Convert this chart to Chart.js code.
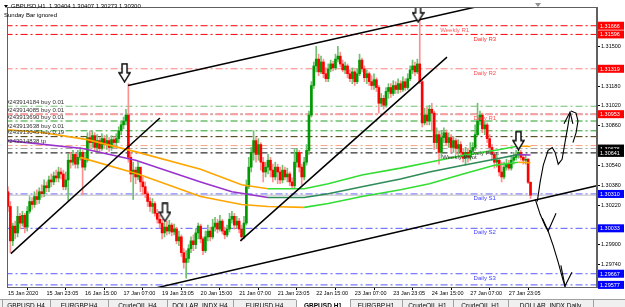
<!DOCTYPE html>
<html>
<head>
<meta charset="utf-8">
<script src="https://cdn.jsdelivr.net/npm/chart.js@4.4.1/dist/chart.umd.min.js"></script>
<style>html,body{margin:0;padding:0;background:#fff;overflow:hidden}canvas{display:block}</style>
</head>
<body>
<canvas id="grafico" width="625" height="307"></canvas>
<script>
// eixo do tempo (um rótulo a cada 16 barras H1)
const timeLabels = ['15 Jan 2020','15 Jan 23:05','16 Jan 15:00','17 Jan 07:00','19 Jan 23:05','20 Jan 15:00','21 Jan 07:00','21 Jan 23:05','22 Jan 15:00','23 Jan 07:00','23 Jan 23:05','24 Jan 15:00','27 Jan 07:00','27 Jan 23:05']
const timeTicks = [0,16,32,48,64,80,96,112,128,144,160,176,192,208]
const priceTicks = [1.29740,1.29900,1.30220,1.30380,1.30540,1.30860,1.31020,1.31180,1.31500]

// candles GBPUSD H1 (abertura = fecho anterior)
const firstOpen = 1.30328
const close = [
1.30209,1.29932,1.30051,1.29996,1.30130,1.30075,1.30138,1.30043,1.30170,1.30249,
1.30225,1.30289,1.30265,1.30328,1.30312,1.30376,1.30360,1.30423,1.30407,1.30455,
1.30439,1.30487,1.30471,1.30368,1.30423,1.30582,1.30566,1.30629,1.30550,1.30605,
1.30645,1.30526,1.30582,1.30764,1.30724,1.30780,1.30685,1.30740,1.30677,1.30756,
1.30708,1.30740,1.30685,1.30748,1.30724,1.30756,1.30819,1.30867,1.30898,1.30946,
1.30605,1.30471,1.30502,1.30447,1.30526,1.30407,1.30368,1.30312,1.30249,1.30209,
1.30233,1.30154,1.30106,1.30075,1.29996,1.30043,1.30011,1.30059,1.30003,1.30027,
1.29932,1.29964,1.29837,1.29758,1.29790,1.29869,1.29932,1.29901,1.29996,1.30051,
1.29948,1.29853,1.29964,1.30011,1.29964,1.30043,1.30075,1.30027,1.30091,1.30011,
1.29980,1.30027,1.30106,1.30130,1.30059,1.30091,1.30027,1.29964,1.30075,1.30368,
1.30526,1.30645,1.30740,1.30629,1.30708,1.30566,1.30487,1.30526,1.30582,1.30502,
1.30447,1.30526,1.30487,1.30423,1.30502,1.30447,1.30471,1.30407,1.30376,1.30566,
1.30645,1.30526,1.30447,1.30566,1.30661,1.30946,1.31184,1.31342,1.31397,1.31294,
1.31374,1.31279,1.31239,1.31318,1.31358,1.31326,1.31397,1.31421,1.31358,1.31310,
1.31342,1.31279,1.31239,1.31294,1.31215,1.31279,1.31389,1.31318,1.31247,1.31279,
1.31215,1.31184,1.31231,1.31168,1.31041,1.31081,1.31025,1.31136,1.31168,1.31120,
1.31184,1.31152,1.31199,1.31152,1.31215,1.31168,1.31239,1.31310,1.31342,1.31294,
1.31358,1.31215,1.30883,1.30946,1.30898,1.30993,1.30962,1.30724,1.30788,1.30645,
1.30764,1.30803,1.30724,1.30764,1.30685,1.30740,1.30677,1.30708,1.30645,1.30597,
1.30645,1.30605,1.30661,1.30685,1.30788,1.30898,1.30946,1.30835,1.30867,1.30756,
1.30685,1.30629,1.30566,1.30582,1.30487,1.30447,1.30526,1.30550,1.30518,1.30582,
1.30605,1.30629,1.30645,1.30605,1.30582,1.30590,1.30404,1.30300]
const high = [
1.30368,1.30249,1.30075,1.30091,1.30209,1.30154,1.30170,1.30154,1.30209,1.30289,
1.30281,1.30328,1.30344,1.30360,1.30384,1.30423,1.30407,1.30455,1.30471,1.30487,
1.30502,1.30526,1.30518,1.30502,1.30487,1.30629,1.30645,1.30661,1.30645,1.30661,
1.30685,1.30661,1.30645,1.30803,1.30819,1.30819,1.30803,1.30788,1.30764,1.30796,
1.30780,1.30788,1.30764,1.30780,1.30772,1.30796,1.30851,1.30898,1.30930,1.30993,
1.31199,1.30645,1.30566,1.30526,1.30566,1.30502,1.30447,1.30407,1.30328,1.30281,
1.30273,1.30249,1.30186,1.30138,1.30106,1.30083,1.30091,1.30098,1.30075,1.30067,
1.30043,1.30011,1.29980,1.29869,1.29853,1.29901,1.29964,1.29980,1.30027,1.30075,
1.30067,1.29964,1.30011,1.30059,1.30043,1.30106,1.30122,1.30106,1.30138,1.30106,
1.30043,1.30059,1.30154,1.30170,1.30154,1.30130,1.30114,1.30059,1.30130,1.30423,
1.30605,1.30685,1.30819,1.30764,1.30756,1.30724,1.30605,1.30566,1.30629,1.30605,
1.30550,1.30566,1.30550,1.30526,1.30542,1.30526,1.30518,1.30487,1.30439,1.30669,
1.30677,1.30661,1.30550,1.30605,1.30708,1.30978,1.31215,1.31374,1.31500,1.31437,
1.31421,1.31397,1.31326,1.31358,1.31389,1.31382,1.31437,1.31500,1.31453,1.31389,
1.31374,1.31358,1.31310,1.31326,1.31310,1.31318,1.31437,1.31405,1.31342,1.31310,
1.31294,1.31263,1.31279,1.31247,1.31184,1.31120,1.31104,1.31168,1.31199,1.31199,
1.31223,1.31215,1.31239,1.31223,1.31255,1.31239,1.31279,1.31342,1.31389,1.31374,
1.31397,1.31730,1.31231,1.31001,1.31009,1.31025,1.31041,1.30978,1.30843,1.30819,
1.30819,1.30843,1.30827,1.30803,1.30788,1.30772,1.30756,1.30748,1.30732,1.30677,
1.30685,1.30677,1.30724,1.30724,1.30867,1.31041,1.30978,1.30962,1.30898,1.30883,
1.30788,1.30708,1.30645,1.30629,1.30597,1.30566,1.30566,1.30590,1.30582,1.30621,
1.30645,1.30661,1.30677,1.30661,1.30629,1.30621,1.30597,1.30407]
const low = [
1.30170,1.29837,1.29893,1.29948,1.29964,1.30027,1.30051,1.29996,1.30011,1.30154,
1.30186,1.30202,1.30225,1.30233,1.30281,1.30289,1.30328,1.30328,1.30368,1.30384,
1.30407,1.30407,1.30431,1.30344,1.30344,1.30257,1.30518,1.30542,1.30518,1.30518,
1.30582,1.30304,1.30502,1.30566,1.30677,1.30685,1.30661,1.30645,1.30645,1.30661,
1.30677,1.30669,1.30653,1.30661,1.30677,1.30693,1.30724,1.30788,1.30835,1.30867,
1.30566,1.30407,1.30265,1.30392,1.30423,1.30328,1.30304,1.30281,1.30209,1.30170,
1.30154,1.30130,1.30075,1.30035,1.29948,1.29964,1.29980,1.29988,1.29972,1.29980,
1.29908,1.29893,1.29806,1.29711,1.29631,1.29758,1.29837,1.29853,1.29869,1.29948,
1.29916,1.29821,1.29837,1.29932,1.29932,1.29948,1.30011,1.29996,1.30011,1.29988,
1.29948,1.29964,1.30003,1.30075,1.30027,1.30035,1.29996,1.29932,1.29948,1.30059,
1.30352,1.30487,1.30582,1.30566,1.30582,1.30502,1.30407,1.30447,1.30471,1.30447,
1.30407,1.30423,1.30392,1.30392,1.30399,1.30423,1.30407,1.30376,1.30352,1.30360,
1.30526,1.30487,1.30384,1.30423,1.30542,1.30629,1.30930,1.31160,1.31294,1.31263,
1.31279,1.31247,1.31215,1.31215,1.31294,1.31302,1.31310,1.31374,1.31334,1.31294,
1.31279,1.31247,1.31215,1.31199,1.31184,1.31199,1.31263,1.31294,1.31215,1.31199,
1.31184,1.31152,1.31152,1.31136,1.30962,1.31017,1.30993,1.31009,1.31081,1.31089,
1.31104,1.31120,1.31120,1.31128,1.31136,1.31144,1.31152,1.31223,1.31279,1.31263,
1.31279,1.31199,1.30851,1.30867,1.30867,1.30867,1.30819,1.30669,1.30677,1.30550,
1.30597,1.30724,1.30700,1.30685,1.30645,1.30645,1.30629,1.30629,1.30605,1.30566,
1.30542,1.30566,1.30582,1.30629,1.30661,1.30780,1.30867,1.30803,1.30788,1.30724,
1.30645,1.30582,1.30518,1.30526,1.30455,1.30407,1.30431,1.30502,1.30502,1.30502,
1.30550,1.30582,1.30597,1.30582,1.30550,1.30550,1.30392,1.30273]

// médias móveis (barra, preço)
const maUpBars = [0,15,33,54,80,97,108,123,133,147,163,175,189,202,212,217]
const maUp = [1.30827,1.30803,1.30748,1.30645,1.30510,1.30384,1.30352,1.30352,1.30392,1.30463,1.30518,1.30566,1.30621,1.30661,1.30697,1.30692]
const maMidBars = [0,31,53,80,93,108,123,133,147,163,175,189,202,212,217]
const maMid = [1.30740,1.30677,1.30582,1.30407,1.30328,1.30281,1.30281,1.30312,1.30368,1.30431,1.30487,1.30542,1.30590,1.30627,1.30624]
const maLowBars = [30,54,80,97,108,123,133,147,163,175,189,202,212,217]
const maLow = [1.30605,1.30471,1.30289,1.30225,1.30209,1.30202,1.30233,1.30289,1.30344,1.30392,1.30471,1.30542,1.30566,1.30562]

// linhas horizontais (pivots e ordens)
const levels = [1.31666,1.31596,1.31319,1.31017,1.30953,1.30953,1.30898,1.30819,1.30772,1.30700,1.30676,1.30641,1.30310,1.30033,1.29667,1.29577]
const levelColors = ['#ff0000','#ff0000','#ff8080','#70c070','#ffa0a0','#202020','#22a022','#22a022','#403000','#ffa080','#a0a0a0','#000000','#5a5aff','#5a5aff','#5a5aff','#5a5aff']
const bid = 1.30300

const pivotNames = ['Weekly R1','Daily R3','Daily R2','Daily R1','Daily Pivot','Weekly Pivot','Daily S1','Daily S2','Daily S3']
const pivotPrices = [1.31666,1.31596,1.31319,1.30953,1.30676,1.30641,1.30310,1.30033,1.29667]
const pivotBars = [185.5,198,198,198,198,187.5,198,198,198]
const pivotColors = ['#ff6060','#ff3030','#ff5050','#ff5050','#505050','#303030','#4040ff','#4040ff','#4040ff']

const orderNames = ['#243914184 buy 0.01','#243914085 buy 0.01','#243913690 buy 0.01','#243913638 buy 0.01','#243913045 buy 0.19','#243914838 tp']
const orderPrices = [1.31017,1.30953,1.30898,1.30819,1.30772,1.30700]

const boxPrices = [1.31666,1.31596,1.31319,1.30953,1.30676,1.30641,1.30310,1.30033,1.29667,1.29577]
const boxColors = ['#ff0000','#ff0000','#ff0000','#ff0000','#000000','#000000','#0000ff','#0000ff','#0000ff','#0000ff']

// linhas de tendência e desenhos à mão (barra, preço)
const trendLines = [
  [[1.2,1.29829],[63.1,1.30922]],
  [[49.9,1.31184],[194.2,1.31817]],
  [[96.5,1.29932],[182.3,1.31413]],
  [[61.4,1.29552],[244.5,1.30376]]]
const freehand = [
  [[219.8,1.30249],[221.0,1.30407],[222.3,1.30542],[224.3,1.30661],[226.0,1.30685],[227.2,1.30645],[228.5,1.30550],[230.1,1.30590],[231.3,1.30724],[232.6,1.30867],[233.4,1.30962]],
  [[230.9,1.30875],[233.4,1.30970],[234.6,1.30875]],
  [[233.8,1.30978],[235.9,1.30962],[236.7,1.30898],[235.9,1.30803],[234.6,1.30724]],
  [[219.0,1.30265],[221.0,1.30146],[223.1,1.30051],[224.3,1.30011],[226.4,1.29893],[228.5,1.29758],[230.5,1.29615],[231.8,1.29536]],
  [[221.9,1.30114],[224.3,1.30011],[227.6,1.30154]],
  [[229.6,1.29735],[231.3,1.29568],[234.2,1.29679]]]
const arrowBars = [48.4,65.2,170.3,212]
const arrowPrices = [1.31287,1.30162,1.31770,1.30740]

const tabNames = ['GBPUSD,H4','EURGBP,H4','CrudeOIL,H4','DOLLAR_INDX,H4','EURUSD,H4','GBPUSD,H1','EURGBP,H1','CrudeOIL,H1','CrudeOIL,H1','DOLLAR_INDX,Daily','']
const tabEdges = [2,50,108,167,233,296,350,402,453,508,593,625]

const fonte = "'Liberation Sans', Arial, sans-serif"

function seta(){
    const c = document.createElement('canvas'); c.width = 13; c.height = 20
    const g = c.getContext('2d')
    g.beginPath(); g.moveTo(4,1); g.lineTo(9,1); g.lineTo(9,10); g.lineTo(12,10); g.lineTo(6.5,19); g.lineTo(1,10); g.lineTo(4,10); g.closePath()
    g.fillStyle = '#fff'; g.fill(); g.lineWidth = 1.4; g.strokeStyle = '#000'; g.stroke()
    return c
}

const open = close.map((c, i) => i ? close[i-1] : firstOpen)
const bodies = close.map((c, i) => ({x: i, y: [open[i], c]}))
const wicks = close.map((c, i) => ({x: i, y: [low[i], high[i]]}))
const bodyColors = close.map((c, i) => c >= open[i] ? '#009a00' : '#ff0000')
const wickColors = close.map((c, i) => c >= open[i] ? '#70c070' : '#ff9090')

const datasets = []
levels.forEach((p, i) => datasets.push({type: 'line', data: [{x: -1, y: p}, {x: 246, y: p}], borderColor: levelColors[i], borderWidth: i == 4 ? 2 : 1, borderDash: [7,3,2,3], pointRadius: 0, order: 10}))
datasets.push({type: 'line', data: [{x: -1, y: bid}, {x: 246, y: bid}], borderColor: '#c0c0c0', borderWidth: 1, pointRadius: 0, order: 9})
datasets.push({type: 'bar', data: wicks, backgroundColor: wickColors, barThickness: 1, grouped: false, order: 4})
datasets.push({type: 'bar', data: bodies, backgroundColor: bodyColors, barThickness: 2, minBarLength: 1, grouped: false, order: 3})
const mas = [[maUpBars, maUp, '#ffa500', '#33dd33'], [maMidBars, maMid, '#9932cc', '#2e8b57'], [maLowBars, maLow, '#ffa500', '#33dd33']]
mas.forEach(m => datasets.push({type: 'line', data: m[0].map((b, i) => ({x: b, y: m[1][i]})), borderWidth: 1.6, pointRadius: 0, order: 2,
    segment: {borderColor: ctx => ctx.p1.parsed.y < ctx.p0.parsed.y ? m[2] : m[3]}}))
trendLines.concat(freehand).forEach((l, k) => datasets.push({type: 'line', data: l.map(p => ({x: p[0], y: p[1]})), borderColor: '#000', borderWidth: k < 4 ? 1.5 : 1.1, pointRadius: 0, order: 1}))
datasets.push({type: 'line', data: arrowBars.map((b, i) => ({x: b, y: arrowPrices[i]})), showLine: false, pointStyle: seta(), pointRadius: 6, order: 0})

const desenho = {
    id: 'desenho',
    afterDatasetsDraw(chart){
        const g = chart.ctx, xs = chart.scales.x, ys = chart.scales.y, a = chart.chartArea
        g.save()
        g.beginPath(); g.rect(a.left, a.top, a.right - a.left, a.bottom - a.top); g.clip()
        g.font = '6px ' + fonte; g.textBaseline = 'middle'; g.textAlign = 'center'
        pivotNames.forEach((n, i) => { g.fillStyle = pivotColors[i]; g.fillText(n, xs.getPixelForValue(pivotBars[i]), ys.getPixelForValue(pivotPrices[i]) + 4.5) })
        g.textAlign = 'left'; g.fillStyle = '#303030'
        orderNames.forEach((n, i) => g.fillText(n, 6, ys.getPixelForValue(orderPrices[i]) - 4))
        g.restore()
    },
    afterDraw(chart){
        const g = chart.ctx, ys = chart.scales.y, a = chart.chartArea
        g.save()
        g.strokeStyle = '#606060'; g.lineWidth = 1
        g.strokeRect(a.left + 0.5, a.top + 0.5, a.right - a.left - 1, a.bottom - a.top)
        g.font = '5.5px ' + fonte; g.textBaseline = 'middle'; g.textAlign = 'left'
        boxPrices.forEach((p, i) => {
            const y = ys.getPixelForValue(p)
            g.fillStyle = boxColors[i]; g.fillRect(598, y - 4, 26, 8)
            g.fillStyle = '#fff'; g.fillText(p.toFixed(5), 600, y + 0.5)
        })
        // cabeçalho
        g.fillStyle = '#000'
        g.beginPath(); g.moveTo(4, 5); g.lineTo(8, 5); g.lineTo(6, 8); g.closePath(); g.fill()
        g.font = '6px ' + fonte
        g.fillText('GBPUSD,H1  1.30404 1.30407 1.30273 1.30300', 11, 6.5)
        g.fillText('Sunday Bar ignored', 4, 15)
        g.fillStyle = '#909090'
        g.beginPath(); g.moveTo(535, 3); g.lineTo(541, 3); g.lineTo(538, 7); g.closePath(); g.fill()
        // abas
        g.fillStyle = '#f0f0f0'; g.fillRect(0, 299, 625, 8)
        g.strokeStyle = '#a0a0a0'
        g.beginPath(); g.moveTo(0, 299.5); g.lineTo(625, 299.5); g.stroke()
        for (let i = 0; i < tabNames.length; i++){
            const x0 = tabEdges[i], x1 = tabEdges[i+1]
            if (i == 5){ g.fillStyle = '#fff'; g.fillRect(x0, 298, x1 - x0, 9) }
            g.beginPath(); g.moveTo(x0 + 0.5, 300); g.lineTo(x0 + 0.5, 307); g.stroke()
            g.fillStyle = '#000'; g.textAlign = 'center'; g.textBaseline = 'top'
            g.font = (i == 5 ? 'bold ' : '') + '6.5px ' + fonte
            g.fillText(tabNames[i], (x0 + x1) / 2, 303)
        }
        g.restore()
    }
}

new Chart(document.getElementById('grafico').getContext('2d'), {
    type: 'bar',
    data: {datasets: datasets},
    plugins: [desenho],
    options: {
        responsive: false,
        animation: false,
        devicePixelRatio: 1,
        layout: {padding: {left: 3, top: 2, right: 0, bottom: 0}},
        plugins: {legend: {display: false}, tooltip: {enabled: false}},
        scales: {
            x: {
                type: 'linear', position: 'bottom', min: -0.4, max: 244.6, offset: false,
                afterBuildTicks: s => { s.ticks = timeTicks.map(v => ({value: v})) },
                afterFit: s => { s.height = 20 },
                grid: {display: true, drawOnChartArea: false, tickLength: 3, color: '#000'},
                border: {display: false},
                ticks: {autoSkip: false, maxRotation: 0, align: 'start', padding: 0, color: '#000', font: {size: 5.5, family: fonte},
                    callback: v => timeLabels[timeTicks.indexOf(v)]}
            },
            y: {
                type: 'linear', position: 'right', min: 1.29560, max: 1.31817,
                afterBuildTicks: s => { s.ticks = priceTicks.map(v => ({value: v})) },
                afterFit: s => { s.width = 28 },
                grid: {display: true, drawOnChartArea: false, tickLength: 3, color: '#000'},
                border: {display: true, color: '#606060'},
                ticks: {padding: 1, color: '#000', font: {size: 5.5, family: fonte}, callback: v => v.toFixed(5)}
            }
        }
    }
})
</script>
</body>
</html>
